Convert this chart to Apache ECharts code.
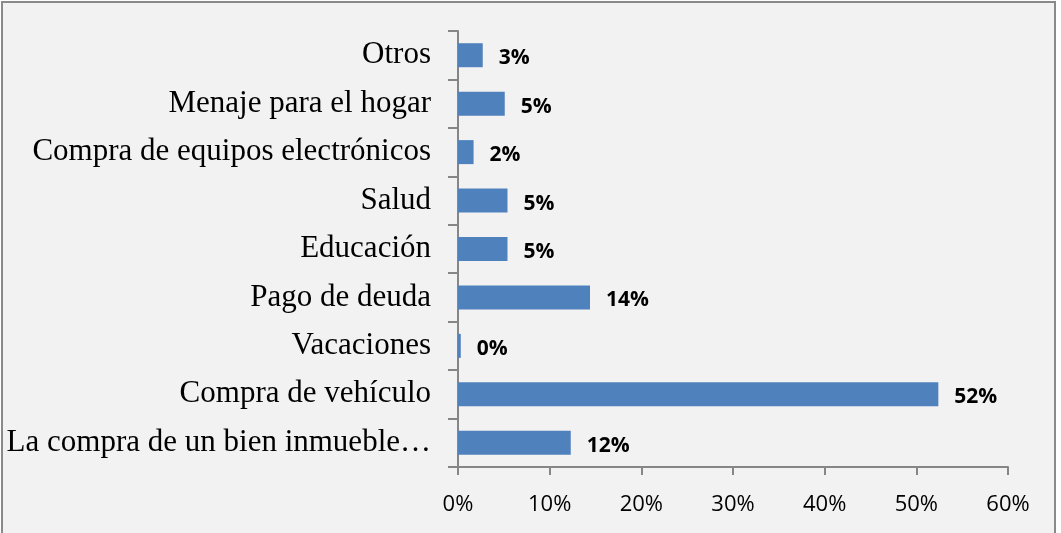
<!DOCTYPE html>
<html>
<head>
<meta charset="utf-8">
<script src="https://cdn.jsdelivr.net/npm/echarts@6/dist/echarts.min.js"></script>
<style>
  html, body { margin: 0; padding: 0; background: #fff; }
  #main { position: absolute; left: 1px; top: 1px; width: 1055px; height: 540px;
          background: #f2f2f2; border: 2px solid #8a8a8a; box-sizing: border-box; }
</style>
</head>
<body>
<div id="main"></div>
<script>
// categories from bottom to top
var categories = ['La compra de un bien inmueble…', 'Compra de vehículo', 'Vacaciones', 'Pago de deuda',
  'Educación', 'Salud', 'Compra de equipos electrónicos', 'Menaje para el hogar', 'Otros']
var values = [12.3, 52.4, 0.3, 14.4, 5.4, 5.4, 1.7, 5.1, 2.7]

var myChart = echarts.init(document.getElementById('main'))
var option = {
  animation: false,
  grid: { left: 455, top: 28, right: 46, bottom: 72 },
  xAxis: {
    type: 'value',
    min: 0,
    max: 60,
    interval: 10,
    axisLine: { show: true, lineStyle: { color: '#868686', width: 2 } },
    axisTick: { show: true, length: 8, lineStyle: { color: '#868686', width: 2 } },
    splitLine: { show: false },
    axisLabel: { formatter: '{value}%', color: '#000', fontFamily: 'Open Sans', fontSize: 22, margin: 27 }
  },
  yAxis: {
    type: 'category',
    data: categories,
    axisLine: { lineStyle: { color: '#868686', width: 2 } },
    axisTick: { show: true, length: 10, lineStyle: { color: '#868686', width: 2 } },
    axisLabel: { color: '#000', fontFamily: 'Liberation Serif', fontSize: 31, margin: 27, padding: [6, 0, 0, 0] }
  },
  series: [{
    type: 'bar',
    data: values,
    barWidth: 24,
    itemStyle: { color: '#4f81bd' },
    label: {
      show: true,
      position: 'right',
      distance: 16,
      offset: [0, 3],
      color: '#000',
      fontFamily: 'Open Sans',
      fontWeight: 'bold',
      fontSize: 21,
      formatter: function (p) { return Math.round(p.value) + '%' }
    }
  }]
}
myChart.setOption(option)
</script>
</body>
</html>
